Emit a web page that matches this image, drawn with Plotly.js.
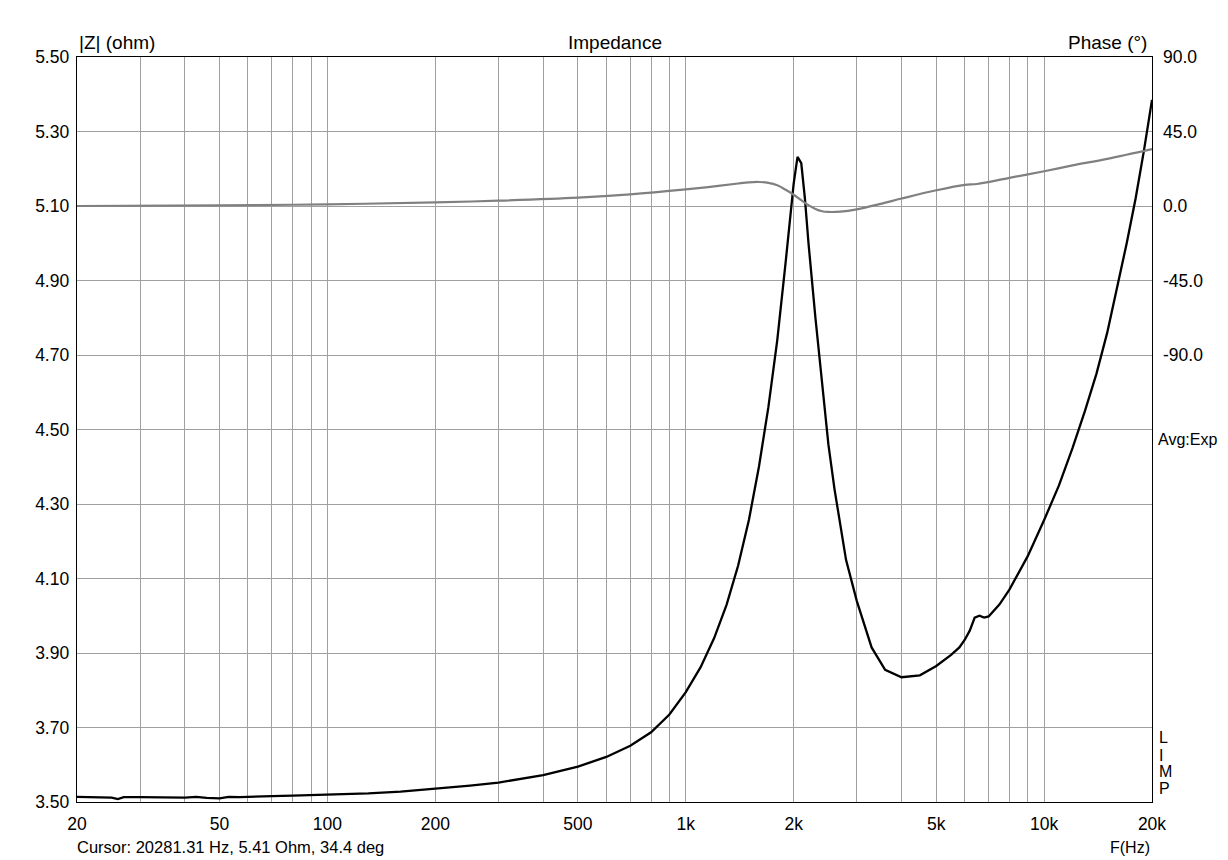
<!DOCTYPE html>
<html><head><meta charset="utf-8">
<script src="https://cdn.plot.ly/plotly-3.0.1.min.js"></script>
<style>html,body{margin:0;padding:0;background:#fff}#chart{width:1228px;height:860px}</style>
</head><body><div id="chart"></div>
<script>
// Impedance magnitude (ohm)
const freqZ = [20,23,25,26,27,30,33,36,40,43,46,50,53,57,62,70,80,100,130,160,200,250,300,400,500,600,700,800,900,1000,1100,1200,1300,1400,1500,1600,1700,1800,1900,1950,2000,2050,2100,2150,2200,2300,2400,2500,2600,2800,3000,3300,3600,4000,4500,5000,5500,5800,6000,6200,6400,6600,6800,7000,7500,8000,9000,10000,11000,12000,13000,14000,15000,16000,17000,18000,19000,20000];
const ohm = [3.514,3.514,3.512,3.508,3.513,3.513,3.512,3.513,3.512,3.514,3.511,3.510,3.514,3.513,3.515,3.516,3.517,3.519,3.523,3.528,3.535,3.544,3.552,3.572,3.595,3.621,3.651,3.687,3.735,3.795,3.862,3.940,4.030,4.135,4.257,4.400,4.560,4.740,4.950,5.060,5.160,5.232,5.215,5.120,5.000,4.800,4.620,4.460,4.340,4.150,4.040,3.915,3.855,3.835,3.840,3.865,3.895,3.915,3.935,3.960,3.995,4.000,3.995,3.998,4.030,4.070,4.160,4.257,4.350,4.450,4.550,4.650,4.760,4.880,5.000,5.120,5.250,5.385];
// Phase (deg)
const freqP = [20,50,100,200,300,500,700,1000,1200,1400,1500,1600,1700,1800,1900,2000,2100,2200,2300,2400,2500,2700,3000,3500,4000,5000,6000,6500,8000,10000,12000,15000,20000];
const phase = [0,0.4,1.0,2.2,3.2,5.0,7.0,10.0,11.8,13.6,14.3,14.5,14.0,12.5,9.8,6.8,3.5,0.5,-1.8,-3.2,-3.6,-3.4,-2.0,1.3,4.5,9.5,12.8,13.3,17.0,21.0,24.5,28.5,34.4];

const xTickVals = [20,30,40,50,60,70,80,90,100,200,300,400,500,600,700,800,900,1000,2000,3000,4000,5000,6000,7000,8000,9000,10000,20000];
const xTickText = ['20','','','50','','','','','100','200','','','500','','','','','1k','2k','','','5k','','','','','10k','20k'];
const yTickVals = [3.5,3.7,3.9,4.1,4.3,4.5,4.7,4.9,5.1,5.3,5.5];
const y2TickVals = [90,45,0,-45,-90];
const sideLetters = ['L','I','M','P'];

const FONT = 'Liberation Sans, Arial, sans-serif';
const traces = [
  {x: freqP, y: phase, type:'scatter', mode:'lines', line:{color:'#808080', width:2.2, shape:'spline'}, xaxis:'x', yaxis:'y2', hoverinfo:'skip'},
  {x: freqZ, y: ohm, type:'scatter', mode:'lines', line:{color:'#000000', width:2.3}, xaxis:'x', yaxis:'y', hoverinfo:'skip'}
];

const annotations = [
  {text:'|Z| (ohm)', xref:'paper', yref:'paper', x:0, y:1, xanchor:'left', yanchor:'bottom', yshift:2, xshift:0, showarrow:false, font:{size:19}},
  {text:'Impedance', xref:'paper', yref:'paper', x:0.5, y:1, xanchor:'center', yanchor:'bottom', yshift:2, showarrow:false, font:{size:19}},
  {text:'Phase (°)', xref:'paper', yref:'paper', x:1, y:1, xanchor:'right', yanchor:'bottom', yshift:2, xshift:-3, showarrow:false, font:{size:19}},
  {text:'Avg:Exp', xref:'paper', yref:'y2', x:1, y:-141, xanchor:'left', yanchor:'middle', xshift:4, showarrow:false, font:{size:16}},
  {text:'Cursor: 20281.31 Hz, 5.41 Ohm, 34.4 deg', xref:'paper', yref:'paper', x:0, y:0, xanchor:'left', yanchor:'middle', yshift:-45, xshift:-2, showarrow:false, font:{size:16.5}},
  {text:'F(Hz)', xref:'paper', yref:'paper', x:1, y:0, xanchor:'right', yanchor:'middle', yshift:-45, xshift:0, showarrow:false, font:{size:16}}
];
sideLetters.forEach((ch,i)=>{
  annotations.push({text:ch, xref:'paper', yref:'paper', x:1, y:0, xanchor:'left', yanchor:'middle', xshift:5, yshift:(802-[737,755,771,788][i]), showarrow:false, font:{size:16}});
});

const layout = {
  width:1228, height:860,
  margin:{l:77, r:76, t:57, b:58},
  paper_bgcolor:'#ffffff', plot_bgcolor:'#ffffff',
  showlegend:false,
  font:{family:FONT, size:17.5, color:'#000'},
  xaxis:{type:'log', range:[Math.log10(20), Math.log10(20000)], tickvals:xTickVals, ticktext:xTickText,
    showgrid:true, gridcolor:'#a0a0a0', gridwidth:1, showline:true, linecolor:'#000', linewidth:1.3, mirror:true,
    ticks:'', tickfont:{family:FONT, size:17.5}, zeroline:false, ticklabelstandoff:6},
  yaxis:{range:[3.5,5.5], tickvals:yTickVals, ticktext:yTickVals.map(v=>v.toFixed(2)),
    showgrid:true, gridcolor:'#a0a0a0', gridwidth:1, showline:true, linecolor:'#000', linewidth:1.3, mirror:true,
    ticks:'', tickfont:{family:FONT, size:17.5}, zeroline:false, ticklabelstandoff:3},
  yaxis2:{overlaying:'y', side:'right', range:[-360,90], tickvals:y2TickVals, ticktext:y2TickVals.map(v=>v.toFixed(1)),
    showgrid:false, ticks:'', tickfont:{family:FONT, size:17.5}, zeroline:false, showline:false, ticklabelstandoff:10},
  annotations: annotations
};
Plotly.newPlot('chart', traces, layout, {staticPlot:true, displayModeBar:false});
</script></body></html>
